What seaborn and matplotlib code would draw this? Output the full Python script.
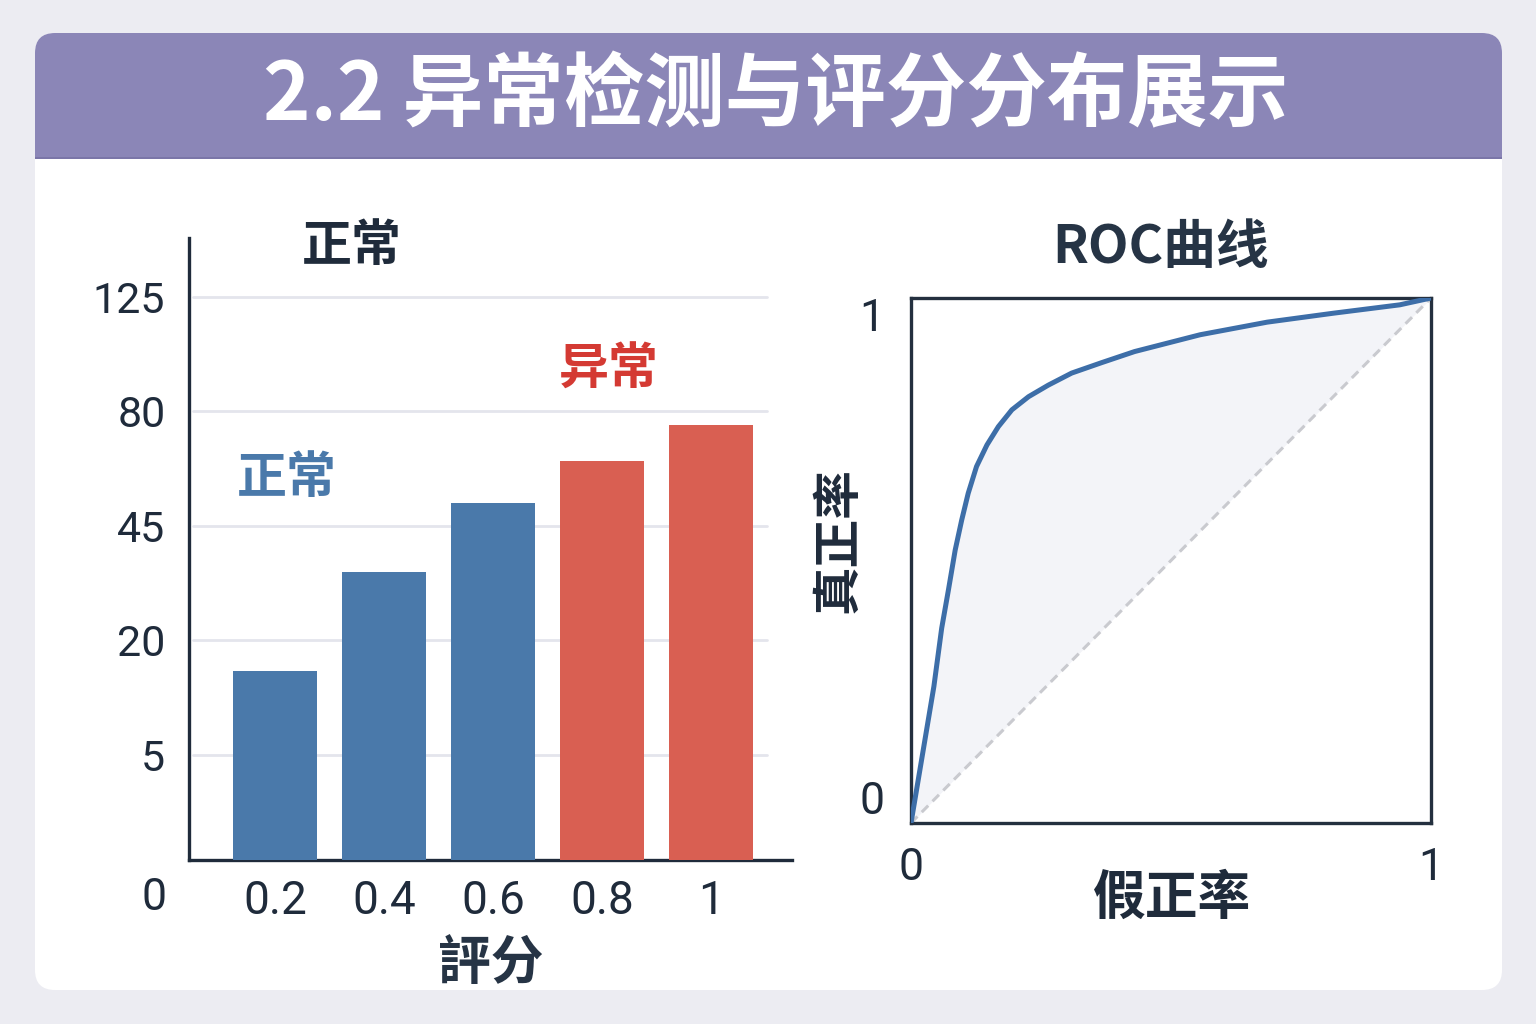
import numpy as np
import pandas as pd
import matplotlib.pyplot as plt
from matplotlib.patches import FancyBboxPatch, Rectangle
import seaborn as sns

# data
scores = ['0.2', '0.4', '0.6', '0.8', '1']
counts = [16, 35, 52, 65, 76]
groups = ['正常', '正常', '正常', '异常', '异常']
ytick_vals = [5, 20, 45, 80, 125]
ytick_labels = ['5', '20', '45', '80', '125']

fpr = [0.0, 0.044, 0.059, 0.072, 0.085, 0.0975, 0.110, 0.126, 0.146, 0.168, 0.194,
       0.226, 0.264, 0.309, 0.367, 0.430, 0.556, 0.685, 0.812, 0.940, 1.0]
tpr = [0.0, 0.260, 0.371, 0.444, 0.520, 0.577, 0.628, 0.679, 0.720, 0.755, 0.787,
       0.812, 0.834, 0.857, 0.877, 0.898, 0.930, 0.954, 0.971, 0.987, 1.0]
diag = [0.0, 1.0]

dark = '#1f2b3b'
blue = '#4a79aa'
red = '#d95f52'

sns.set_theme(style='white')
plt.rcParams['font.family'] = ['Noto Sans CJK SC', 'DejaVu Sans']
num_font = ['Roboto', 'Noto Sans CJK SC']

fig = plt.figure(figsize=(15.36, 10.24), dpi=100)
fig.patch.set_facecolor('#ececf2')

# card + header (behind the axes)
card = FancyBboxPatch((0.35, 0.34), 14.67, 9.57, boxstyle='round,pad=0,rounding_size=0.2',
                      transform=fig.dpi_scale_trans, fc='white', ec='none', zorder=-3)
fig.patches.append(card)
head = FancyBboxPatch((0.35, 8.66), 14.67, 1.25, boxstyle='round,pad=0,rounding_size=0.2',
                      transform=fig.dpi_scale_trans, fc='#8b86b7', ec='none', zorder=-2)
fig.patches.append(head)
fig.patches.append(Rectangle((0.35, 8.66), 14.67, 0.5, transform=fig.dpi_scale_trans,
                             fc='#8b86b7', ec='none', zorder=-2))
fig.patches.append(Rectangle((0.35, 8.65), 14.67, 0.02, transform=fig.dpi_scale_trans,
                             fc='#7b76a8', ec='none', zorder=-2))
fig.text(776 / 1536, 1 - 97 / 1024, '2.2 异常检测与评分分布展示', ha='center', va='center',
         fontsize=58, fontweight='bold', color='white')

# ---- left: score distribution ----
ax1 = fig.add_axes([189 / 1536, 1 - 860 / 1024, 603 / 1536, 622 / 1024])
ax1.patch.set_alpha(0)
df = pd.DataFrame({'score': scores, 'count': counts, 'group': groups})
sns.barplot(data=df, x='score', y='count', hue='group', palette={'正常': blue, '异常': red},
            dodge=False, width=0.77, saturation=1, linewidth=0, legend=False, ax=ax1, zorder=3)

scale_vals = [0] + ytick_vals + [170]
scale_idx = list(range(len(scale_vals)))


def fwd(v):
    return np.interp(v, scale_vals, scale_idx)


def inv(i):
    return np.interp(i, scale_idx, scale_vals)


ax1.set_yscale('function', functions=(fwd, inv))
ax1.set_ylim(inv(0.083), inv(5.515))
ax1.set_xlim(-0.79, 4.74)
ax1.set_yticks(ytick_vals, ytick_labels)
for v in ytick_vals:
    ax1.axhline(v, xmin=0.007, xmax=0.958, color='#e4e5ec', lw=2, zorder=1)
ax1.tick_params(axis='y', length=0, pad=17, labelsize=31, labelcolor=dark)
ax1.tick_params(axis='x', length=0, pad=14, labelsize=33, labelcolor=dark)
for t in ax1.get_xticklabels() + ax1.get_yticklabels():
    t.set_family(num_font)
ax1.set_xlabel('評分', fontsize=38, fontweight='bold', color='#263445', labelpad=10)
ax1.set_ylabel('')
sns.despine(ax=ax1)
for s in ['left', 'bottom']:
    ax1.spines[s].set_linewidth(2.4)
    ax1.spines[s].set_color(dark)
fig.text(166 / 1536, 1 - 898 / 1024, '0', ha='right', va='center', fontsize=32,
         color=dark, family=num_font)
ax1.text(0.270, 0.987, '正常', transform=ax1.transAxes, ha='center', va='center',
         fontsize=36, fontweight='bold', color=dark)
ax1.text(0.1625, 0.614, '正常', transform=ax1.transAxes, ha='center', va='center',
         fontsize=36, fontweight='bold', color=blue)
ax1.text(0.6965, 0.788, '异常', transform=ax1.transAxes, ha='center', va='center',
         fontsize=36, fontweight='bold', color='#d43a33')

# ---- right: ROC ----
ax2 = fig.add_axes([911 / 1536, 1 - 823 / 1024, 520 / 1536, 525 / 1024])
ax2.fill_between(fpr, fpr, tpr, color='#f3f4f8', lw=0, zorder=1)
ax2.plot(diag, diag, ls=(0, (3, 2)), color='#c9cacf', lw=2.2, zorder=2)
sns.lineplot(x=fpr, y=tpr, sort=False, estimator=None, color='#3d6ea8', lw=3.6, ax=ax2,
             zorder=3, solid_joinstyle='round', solid_capstyle='round')
ax2.set_xlim(0, 1)
ax2.set_ylim(0, 1)
ax2.set_xticks([0, 1], ['0', '1'])
ax2.set_yticks([0, 1], ['0', '1'])
ax2.tick_params(axis='x', length=0, pad=17, labelsize=32, labelcolor=dark)
ax2.tick_params(axis='y', length=0, pad=19, labelsize=32, labelcolor=dark)
for t in ax2.get_xticklabels() + ax2.get_yticklabels():
    t.set_family(num_font)
ylabs = ax2.get_yticklabels()
ylabs[0].set_va('bottom')
ylabs[1].set_va('top')
for s in ax2.spines.values():
    s.set_linewidth(2.4)
    s.set_color('#24303f')
ax2.text(0.479, 1.097, 'ROC曲线', transform=ax2.transAxes, ha='center', va='center',
         fontsize=38, fontweight='bold', color='#263445')
ax2.text(0.502, -0.143, '假正率', transform=ax2.transAxes, ha='center', va='center',
         fontsize=38, fontweight='bold', color=dark)
ax2.text(-0.140, 0.539, '真正率', transform=ax2.transAxes, ha='center', va='center',
         rotation=90, fontsize=35, fontweight='bold', color=dark)

fig.savefig('out.png', dpi=100, facecolor=fig.get_facecolor())
